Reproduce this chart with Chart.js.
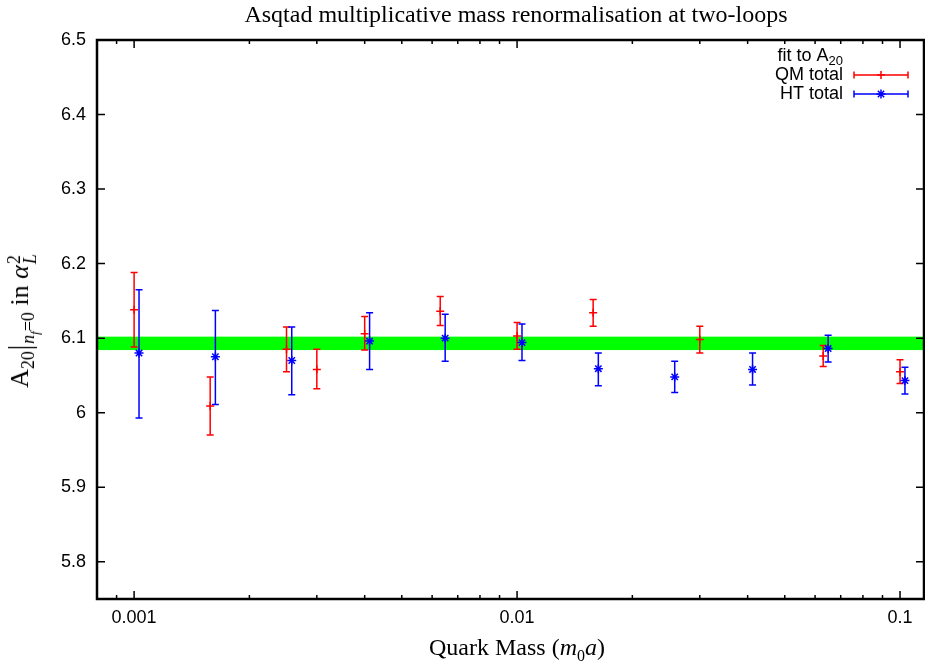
<!DOCTYPE html>
<html>
<head>
<meta charset="utf-8">
<title>Asqtad multiplicative mass renormalisation</title>
<script src="https://cdn.jsdelivr.net/npm/chart.js@4.4.1/dist/chart.umd.min.js"></script>
<style>
  body { margin: 0; background: #fff; }
  #wrap { position: relative; width: 925px; height: 664px; }
  #chart { position: absolute; left: 0; top: 0; }
  .serif { position: absolute; font-family: 'Liberation Serif', 'Times New Roman', serif; font-size: 24px; color: #000; white-space: nowrap; line-height: 1; }
  #title { left: 516px; top: 14px; transform: translate(-50%, -50%); }
  #xlabel { left: 517px; top: 647px; transform: translate(-50%, -50%); }
  #ylabel { left: 22px; top: 321px; font-size: 26px; transform: translate(-50%, -50%) rotate(-90deg); }
  .serif sub, .serif sup { font-size: 16px; line-height: 0; }
  #ylabel sub { font-size: 18px; }
  .serif sub sub, #ylabel sub sub { font-size: 13px; }
  .bar { display: inline-block; transform: scaleY(1.25); margin: 0 1px; }
  .ss { display: inline-block; vertical-align: -8px; font-size: 18px; line-height: 16px; margin-left: 1px; }
  .ss span { display: block; }
</style>
</head>
<body>
<div id="wrap">
  <canvas id="chart" width="925" height="664"></canvas>
  <div id="title" class="serif">Asqtad multiplicative mass renormalisation at two-loops</div>
  <div id="xlabel" class="serif">Quark Mass (<i>m</i><sub>0</sub><i>a</i>)</div>
  <div id="ylabel" class="serif">A<sub>20</sub><span class="bar">|</span><sub><i>n<sub>f</sub></i>=0</sub> in <i>α</i><span class="ss"><span>2</span><span><i>L</i></span></span></div>
</div>
<script>
// ── Data ───────────────────────────────────────────────
const qmMass  = [0.001, 0.00158, 0.0025, 0.003, 0.004, 0.0063, 0.01, 0.0158, 0.03, 0.063, 0.1];
const qmValue = [6.138, 6.009, 6.085, 6.058, 6.106, 6.136, 6.103, 6.134, 6.098, 6.076, 6.055];
const qmHigh  = [6.188, 6.048, 6.115, 6.085, 6.129, 6.156, 6.121, 6.152, 6.116, 6.090, 6.071];
const qmLow   = [6.088, 5.970, 6.055, 6.032, 6.084, 6.117, 6.085, 6.116, 6.080, 6.062, 6.039];

const htMass  = [0.00103, 0.00163, 0.00258, 0.00412, 0.00649, 0.0103, 0.0163, 0.0258, 0.0412, 0.0649, 0.103];
const htValue = [6.080, 6.075, 6.070, 6.096, 6.100, 6.094, 6.059, 6.048, 6.058, 6.086, 6.043];
const htHigh  = [6.165, 6.137, 6.115, 6.134, 6.132, 6.119, 6.080, 6.069, 6.080, 6.104, 6.061];
const htLow   = [5.993, 6.011, 6.024, 6.058, 6.069, 6.070, 6.036, 6.027, 6.037, 6.068, 6.025];

// fit to A20: band between lower and upper value
const fitBand = [6.084, 6.102];

const xTicks = [0.001, 0.01, 0.1];
const yTicks = [5.8, 5.9, 6.0, 6.1, 6.2, 6.3, 6.4, 6.5];

const RED = '#ff0000';
const BLUE = '#0000ff';
const GREEN = '#00ff00';

// ── Plugins ────────────────────────────────────────────
const bandPlugin = {
  id: 'band',
  beforeDatasetsDraw(chart) {
    const { ctx, chartArea: a, scales: { y } } = chart;
    const top = y.getPixelForValue(fitBand[1]);
    const bot = y.getPixelForValue(fitBand[0]);
    ctx.save();
    ctx.fillStyle = GREEN;
    ctx.fillRect(a.left, top, a.right - a.left, bot - top);
    ctx.restore();
  },
};

const errorBarPlugin = {
  id: 'errorBars',
  beforeDatasetsDraw(chart) {
    const { ctx, scales: { x, y } } = chart;
    ctx.save();
    chart.data.datasets.forEach(ds => {
      ctx.strokeStyle = ds.borderColor;
      ctx.lineWidth = 1.5;
      ds.data.forEach((p, i) => {
        const px = x.getPixelForValue(p.x);
        const hi = y.getPixelForValue(ds.errHigh[i]);
        const lo = y.getPixelForValue(ds.errLow[i]);
        ctx.beginPath();
        ctx.moveTo(px, hi); ctx.lineTo(px, lo);
        ctx.moveTo(px - 3.5, hi); ctx.lineTo(px + 3.5, hi);
        ctx.moveTo(px - 3.5, lo); ctx.lineTo(px + 3.5, lo);
        ctx.stroke();
      });
    });
    ctx.restore();
  },
};

// gnuplot style frame with inward ticks on all four sides
const framePlugin = {
  id: 'frame',
  afterDraw(chart) {
    const { ctx, chartArea: a, scales: { x, y } } = chart;
    ctx.save();
    ctx.strokeStyle = '#000';
    ctx.lineWidth = 1.5;
    ctx.beginPath();
    for (let d = -4; d <= -1; d++) {
      for (let m = 1; m <= 9; m++) {
        const v = m * Math.pow(10, d);
        if (v < x.min || v > x.max) continue;
        const px = x.getPixelForValue(v);
        const len = m === 1 ? 8 : 4;
        ctx.moveTo(px, a.bottom); ctx.lineTo(px, a.bottom - len);
        ctx.moveTo(px, a.top); ctx.lineTo(px, a.top + len);
      }
    }
    yTicks.forEach(v => {
      const py = y.getPixelForValue(v);
      ctx.moveTo(a.left, py); ctx.lineTo(a.left + 8, py);
      ctx.moveTo(a.right, py); ctx.lineTo(a.right - 8, py);
    });
    ctx.stroke();
    ctx.lineWidth = 2.5;
    ctx.strokeRect(a.left, a.top, a.right - a.left, a.bottom - a.top);
    ctx.restore();
  },
};

const legendPlugin = {
  id: 'gpLegend',
  afterDraw(chart) {
    const { ctx } = chart;
    const right = 843;
    ctx.save();
    ctx.fillStyle = '#000';
    ctx.textBaseline = 'middle';
    ctx.textAlign = 'right';

    // "fit to A20" row
    ctx.font = '13px "Liberation Sans", Arial, sans-serif';
    const subW = ctx.measureText('20').width;
    ctx.fillText('20', right, 61);
    ctx.font = '18px "Liberation Sans", Arial, sans-serif';
    ctx.fillText('fit to A', right - subW, 56);

    const rows = [
      { label: 'QM total', color: RED, style: 'cross', r: 4, y: 75 },
      { label: 'HT total', color: BLUE, style: 'star', r: 4.5, y: 94 },
    ];
    rows.forEach(row => {
      ctx.fillStyle = '#000';
      ctx.fillText(row.label, right, row.y);
      ctx.strokeStyle = row.color;
      ctx.lineWidth = 1.5;
      ctx.beginPath();
      ctx.moveTo(854, row.y); ctx.lineTo(908, row.y);
      ctx.moveTo(854, row.y - 3.5); ctx.lineTo(854, row.y + 3.5);
      ctx.moveTo(908, row.y - 3.5); ctx.lineTo(908, row.y + 3.5);
      ctx.stroke();
      Chart.helpers.drawPoint(ctx, { pointStyle: row.style, radius: row.r, rotation: 0, borderWidth: 1.5 }, 881, row.y);
    });
    ctx.restore();
  },
};

// ── Chart ──────────────────────────────────────────────
Chart.defaults.font.family = '"Liberation Sans", Arial, sans-serif';
Chart.defaults.font.size = 18;
Chart.defaults.color = '#000';

const toPoints = (xs, ys) => xs.map((v, i) => ({ x: v, y: ys[i] }));

new Chart(document.getElementById('chart'), {
  type: 'scatter',
  data: {
    datasets: [
      {
        label: 'QM total',
        data: toPoints(qmMass, qmValue),
        errHigh: qmHigh,
        errLow: qmLow,
        borderColor: RED,
        backgroundColor: RED,
        pointStyle: 'cross',
        pointRadius: 4,
        pointBorderWidth: 1.5,
      },
      {
        label: 'HT total',
        data: toPoints(htMass, htValue),
        errHigh: htHigh,
        errLow: htLow,
        borderColor: BLUE,
        backgroundColor: BLUE,
        pointStyle: 'star',
        pointRadius: 4.5,
        pointBorderWidth: 1.5,
      },
    ],
  },
  options: {
    responsive: false,
    animation: false,
    events: [],
    layout: { autoPadding: false, padding: { top: 40, right: 1, left: 0, bottom: 0 } },
    plugins: {
      legend: { display: false },
      title: { display: false },
      tooltip: { enabled: false },
    },
    scales: {
      x: {
        type: 'logarithmic',
        min: 0.0008,
        max: 0.1155,
        grid: { display: false, drawTicks: false },
        border: { display: false },
        afterBuildTicks: s => { s.ticks = xTicks.map(v => ({ value: v })); },
        afterFit: s => { s.height = 65; s.paddingLeft = 0; s.paddingRight = 0; },
        ticks: {
          padding: 8,
          maxRotation: 0,
          autoSkip: false,
          callback: v => String(v),
        },
      },
      y: {
        min: 5.75,
        max: 6.5,
        grid: { display: false, drawTicks: false },
        border: { display: false },
        afterBuildTicks: s => { s.ticks = yTicks.map(v => ({ value: v })); },
        afterFit: s => { s.width = 97; s.paddingTop = 0; s.paddingBottom = 0; },
        ticks: {
          padding: 11,
          autoSkip: false,
          callback: v => String(+v.toFixed(1)),
        },
      },
    },
  },
  plugins: [bandPlugin, errorBarPlugin, framePlugin, legendPlugin],
});
</script>
</body>
</html>
